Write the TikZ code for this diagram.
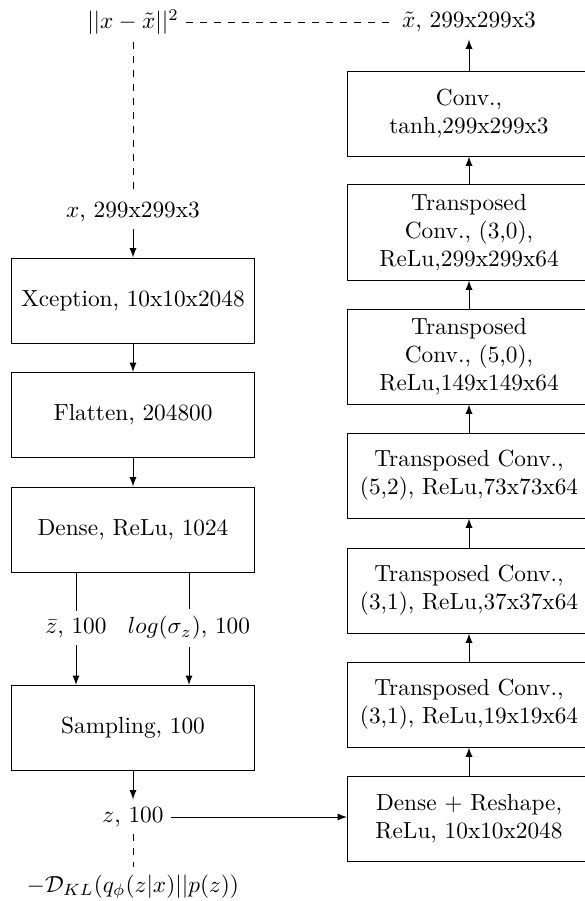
\documentclass[tikz,border=0pt]{standalone}
\usetikzlibrary{arrows}
\begin{document}
\begin{tikzpicture}[x=0.4292pt,y=-0.4292pt,
  layer/.style={draw, inner sep=0pt, align=center, minimum width=104.3pt, minimum height=36.5pt},
  tallayer/.style={layer, minimum height=40.8pt},
  lbl/.style={inner sep=3pt},
  flow/.style={-latex},
  loss/.style={dashed}]
\useasboundingbox (0,0) rectangle (584,901);

% encoder
\node[lbl] (x) at (133,212) {$x$, 299x299x3};
\node[layer] (xc) at (133,300.5) {Xception, 10x10x2048};
\node[layer] (fl) at (133,415) {Flatten, 204800};
\node[layer] (de) at (133,529.5) {Dense, ReLu, 1024};
\node[lbl] (zb) at (76,628) {$\bar{z}$, 100};
\node[lbl] (ls) at (189,628) {$log(\sigma_z)$, 100};
\node[layer] (sa) at (133,728) {Sampling, 100};
\node[lbl] (z) at (133,817) {$z$, 100};
\node[lbl] (kl) at (133,887) {$-\mathcal{D}_{KL}(q_\phi(z|x)||p(z))$};

% decoder
\node[layer] (dr) at (469,818.5) {Dense + Reshape,\\ReLu, 10x10x2048};
\node[layer] (t3) at (469,704.5) {Transposed Conv.,\\(3,1), ReLu,19x19x64};
\node[layer] (t2) at (469,590.5) {Transposed Conv.,\\(3,1), ReLu,37x37x64};
\node[layer] (t1) at (469,475.5) {Transposed Conv.,\\(5,2), ReLu,73x73x64};
\node[tallayer] (u2) at (469,356.5) {Transposed\\Conv., (5,0),\\ReLu,149x149x64};
\node[tallayer] (u1) at (469,232.5) {Transposed\\Conv., (3,0),\\ReLu,299x299x64};
\node[layer] (cv) at (469,113.5) {Conv.,\\tanh,299x299x3};
\node[lbl] (xt) at (469,22) {$\tilde{x}$, 299x299x3};

% reconstruction loss
\node[lbl] (rl) at (133,22) {$||x-\tilde{x}||^2$};

% encoder connectors
\draw[flow] (x) -- (xc);
\draw[flow] (xc) -- (fl);
\draw[flow] (fl) -- (de);
\draw (de.south -| zb) -- (zb);
\draw (de.south -| ls) -- (ls);
\draw[flow] (zb) -- (sa.north -| zb);
\draw[flow] (ls) -- (sa.north -| ls);
\draw[flow] (sa) -- (z);
\draw[flow] (z) -- (z -| dr.west);

% decoder connectors
\draw[flow] (dr) -- (t3);
\draw[flow] (t3) -- (t2);
\draw[flow] (t2) -- (t1);
\draw[flow] (t1) -- (u2);
\draw[flow] (u2) -- (u1);
\draw[flow] (u1) -- (cv);
\draw[flow] (cv) -- (xt);

% loss terms
\draw[loss] (rl) -- (xt);
\draw[loss] (rl) -- (x);
\draw[loss] (z) -- (kl);
\end{tikzpicture}
\end{document}
